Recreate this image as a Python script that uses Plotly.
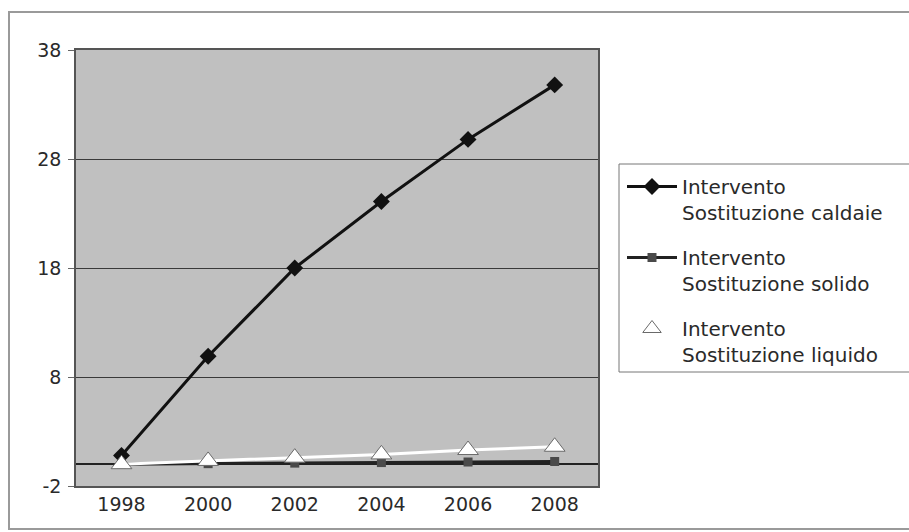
import plotly.graph_objects as go

# Anni di riferimento e andamento dei tre interventi
anni = [1998, 2000, 2002, 2004, 2006, 2008]
caldaie = [0.8, 9.9, 18.0, 24.1, 29.8, 34.8]
solido = [0.0, 0.05, 0.1, 0.15, 0.2, 0.25]
liquido = [0.0, 0.3, 0.6, 0.9, 1.3, 1.6]

nomi = [
    "Intervento<br>Sostituzione caldaie",
    "Intervento<br>Sostituzione solido",
    "Intervento<br>Sostituzione liquido",
]
y_ticks = [-2, 8, 18, 28, 38]
y_labels = ["-2", "8", "18", "28", "38"]

W, H = 909, 532
L, R, T, B = 76, 0, 50, 46
PW, PH = W - L - R, H - T - B


def px_x(p):
    return (p - L) / PW


def px_y(p):
    return (H - B - p) / PH


FONT = "DejaVu Sans"

fig = go.Figure()

fig.add_trace(go.Scatter(
    x=anni, y=caldaie, name=nomi[0], mode="lines+markers", legendgroup="a",
    line=dict(color="#111111", width=3),
    marker=dict(symbol="diamond", size=13, color="#111111"),
))
fig.add_trace(go.Scatter(
    x=anni, y=solido, name=nomi[1], mode="lines+markers", legendgroup="b",
    line=dict(color="#222222", width=3),
    marker=dict(symbol="square", size=9, color="#4a4a4a"),
))
fig.add_trace(go.Scatter(
    x=anni, y=liquido, name=nomi[2], mode="lines+markers", legendgroup="c",
    line=dict(color="#ffffff", width=3),
    marker=dict(symbol="triangle-up", size=18, color="#ffffff",
                line=dict(color="#6a6a6a", width=1)),
))

shapes = [
    # cornice esterna del grafico
    dict(type="rect", xref="paper", yref="paper",
         x0=px_x(9), x1=1.02, y0=px_y(529), y1=px_y(12),
         line=dict(color="#9a9a9a", width=2), layer="below"),
    # riquadro della legenda
    dict(type="rect", xref="paper", yref="paper",
         x0=px_x(619), x1=1.05, y0=px_y(372), y1=px_y(164),
         line=dict(color="#777777", width=1), layer="below"),
]

fig.update_layout(
    width=W, height=H,
    margin=dict(l=L, r=R, t=T, b=B),
    paper_bgcolor="white",
    plot_bgcolor="#c0c0c0",
    font=dict(family=FONT, size=19, color="#2a2a2a"),
    shapes=shapes,
    showlegend=True,
    legend=dict(
        x=px_x(622), y=px_y(167), xanchor="left", yanchor="top",
        bgcolor="rgba(0,0,0,0)", borderwidth=0,
        font=dict(family=FONT, size=20, color="#2a2a2a"),
        itemwidth=50, valign="top", tracegroupgap=16,
    ),
    xaxis=dict(
        domain=[0, px_x(598)],
        range=[1996.95, 2009],
        tickmode="array", tickvals=anni, ticktext=[str(a) for a in anni],
        showgrid=False, zeroline=False, ticks="",
        showline=True, linecolor="#555555", linewidth=1.5, mirror=True,
    ),
    yaxis=dict(
        range=[-2, 38],
        tickmode="array", tickvals=y_ticks, ticktext=y_labels,
        showgrid=True, gridcolor="#3a3a3a", gridwidth=1.2,
        zeroline=True, zerolinecolor="#222222", zerolinewidth=1.5,
        ticks="outside", ticklen=6, tickcolor="#666666",
        ticklabelstandoff=3,
        showline=True, linecolor="#555555", linewidth=1.5, mirror=True,
    ),
)

fig.write_html("out.html")
